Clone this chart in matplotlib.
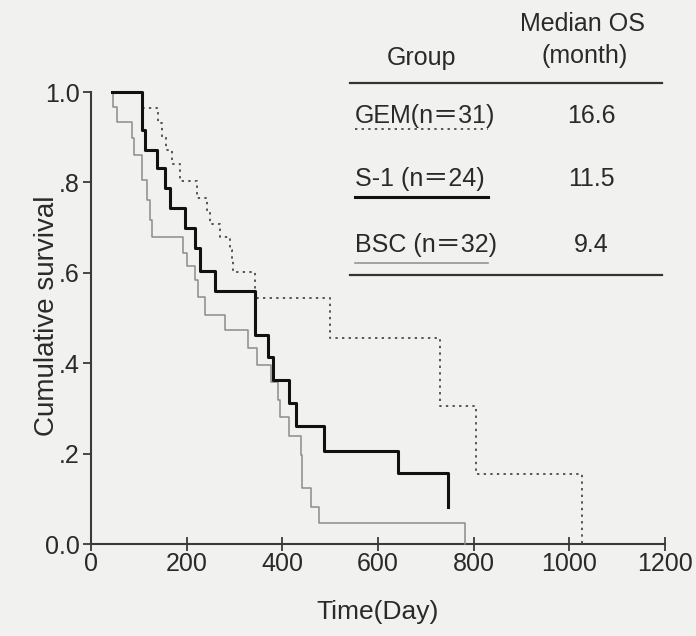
import numpy as np
import matplotlib.pyplot as plt

# survival curves (day, cumulative survival after the step)
gem_days = [44, 107, 140, 148, 157, 169, 186, 222, 243, 249, 270, 291, 295, 297, 343, 500, 730, 805, 1027]
gem_surv = [1.0, 0.965, 0.931, 0.900, 0.872, 0.841, 0.803, 0.765, 0.735, 0.708, 0.679, 0.650, 0.628, 0.602, 0.544, 0.456, 0.305, 0.155, 0.0]

s1_days = [44, 107, 113, 138, 155, 165, 197, 217, 228, 259, 343, 370, 381, 414, 429, 487, 642, 746]
s1_surv = [1.0, 0.916, 0.872, 0.832, 0.788, 0.743, 0.699, 0.655, 0.604, 0.560, 0.462, 0.414, 0.363, 0.312, 0.261, 0.206, 0.157, 0.082]

bsc_days = [44, 46, 54, 86, 90, 107, 117, 123, 128, 192, 201, 217, 224, 238, 280, 328, 347, 376, 391, 395, 414, 439, 441, 460, 477, 782]
bsc_surv = [1.0, 0.967, 0.934, 0.898, 0.861, 0.805, 0.761, 0.717, 0.679, 0.644, 0.615, 0.584, 0.546, 0.507, 0.473, 0.434, 0.396, 0.358, 0.319, 0.281, 0.239, 0.197, 0.124, 0.082, 0.046, 0.0]

groups = ['GEM(n＝31)', 'S-1 (n＝24)', 'BSC (n＝32)']
median_os = ['16.6', '11.5', '9.4']

xticks = [0, 200, 400, 600, 800, 1000, 1200]
yticks = [0.0, 0.2, 0.4, 0.6, 0.8, 1.0]
ytick_labels = ['0.0', '.2', '.4', '.6', '.8', '1.0']

fonts = ['Liberation Sans', 'Noto Sans CJK JP', 'DejaVu Sans']
plt.rcParams['font.family'] = fonts
bg = '#f1f1ef'
ink = '#2a2a2a'

fig = plt.figure(figsize=(6.96, 6.36), dpi=100, facecolor=bg)
ax = fig.add_axes([91/696, (636-544)/636, 574/696, 452/636])
ax.set_facecolor('none')

styles = {
    'gem': dict(color='#555555', lw=1.4, ls=(0, (1.2, 2.2))),
    's1': dict(color='#111111', lw=2.2, ls='-'),
    'bsc': dict(color='#8c8c8c', lw=1.1, ls='-'),
}
ax.step(bsc_days, bsc_surv, where='post', clip_on=False, zorder=3, **styles['bsc'])
ax.step(gem_days, gem_surv, where='post', clip_on=False, zorder=4, **styles['gem'])
ax.step(s1_days, s1_surv, where='post', clip_on=False, zorder=5, **styles['s1'])

ax.set_xlim(0, 1200)
ax.set_ylim(0, 1)
for s in ['top', 'right']:
    ax.spines[s].set_visible(False)
for s in ['left', 'bottom']:
    ax.spines[s].set_color('#3a3a3a')
    ax.spines[s].set_linewidth(1.5)

ax.set_xticks(xticks)
ax.set_xticklabels([str(t) for t in xticks])
ax.set_yticks(yticks)
ax.set_yticklabels(ytick_labels)
ax.tick_params(axis='x', direction='inout', length=10, width=1.3, colors='#3a3a3a',
               labelsize=18, labelcolor=ink, pad=1)
ax.tick_params(axis='y', direction='out', length=6, width=1.3, colors='#3a3a3a',
               labelsize=18, labelcolor=ink, pad=2)

ax.set_ylabel('Cumulative survival', fontsize=20, color=ink)
ax.yaxis.set_label_coords(-0.077, 0.504)
ax.yaxis.label.set_va('center')
ax.set_xlabel('Time(Day)', fontsize=19, color=ink)
ax.xaxis.set_label_coords(0.5, -0.150)
ax.xaxis.label.set_va('center')

# legend table drawn in pixel coordinates
tab = fig.add_axes([0, 0, 1, 1], zorder=6)
tab.set_xlim(0, 696)
tab.set_ylim(636, 0)
tab.axis('off')

tab.text(583, 24, 'Median OS', fontsize=18, ha='center', va='center', color=ink)
tab.text(421, 58, 'Group', fontsize=18, ha='center', va='center', color=ink)
tab.text(585, 56, '(month)', fontsize=18, ha='center', va='center', color=ink)
tab.plot([350, 662], [83, 83], color='#333333', lw=1.6)
tab.plot([350, 662], [275, 275], color='#333333', lw=1.6)

row_y = [116, 179, 245]
for name, med, y, key in zip(groups, median_os, row_y, ['gem', 's1', 'bsc']):
    tab.text(355, y, name, fontsize=18, ha='left', va='center', color=ink)
    tab.text(591, y, med, fontsize=18, ha='center', va='center', color=ink)
    tab.plot([355, 488], [y + 13 if key == 'gem' else y + 18, y + 13 if key == 'gem' else y + 18],
             **styles[key])

fig.savefig('out.png', dpi=100, facecolor=bg)
